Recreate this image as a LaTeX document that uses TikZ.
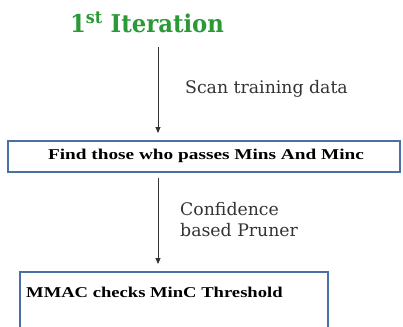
\documentclass[tikz,border=0pt]{standalone}
\usepackage{fontspec}
\setmainfont{Liberation Serif}
\newfontfamily\wideserif{DejaVu Serif}
\usetikzlibrary{arrows.meta}
\definecolor{titlegreen}{HTML}{2A9A36}
\definecolor{boxblue}{HTML}{4A6FA5}
\definecolor{arrowgray}{HTML}{333333}
\begin{document}
\begin{tikzpicture}[x=1pt,y=-1pt,
  stagebox/.style={draw=boxblue,line width=1.8pt,fill=white},
  flow/.style={draw=arrowgray,line width=0.9pt,-{Triangle[length=6pt,width=5pt]}},
  boxtext/.style={inner sep=0pt,font=\bfseries\fontsize{15}{17}\selectfont},
  lbl/.style={anchor=west,inner sep=0pt,text=black!80,font=\wideserif\fontsize{17.3}{20}\selectfont}]
\useasboundingbox (0,0) rectangle (403,326);
\node[inner sep=0pt,text=titlegreen,font=\wideserif\bfseries\fontsize{24.5}{28}\selectfont] (title) at (147,22) {\scalebox{0.93}[1]{1\textsuperscript{st} Iteration}};
\draw[stagebox] (8,141) rectangle (400,172);
\node[boxtext] (find) at (206,156) {\scalebox{1.285}[1]{Find those who passes Mins And Minc}};
\coordinate (box1top) at (158,141);
\coordinate (box1bot) at (158,172);
\draw[stagebox] (20,272) rectangle (328,340);
\node[boxtext,anchor=west] (mmac) at (26,292) {\scalebox{1.24}[1]{MMAC checks MinC Threshold}};
\coordinate (box2top) at (158,272);
\coordinate (a1s) at (158,47);
\coordinate (a2s) at (158,178);
\draw[flow] (a1s) -- ([yshift=8pt]box1top);
\draw[flow] (a2s) -- ([yshift=8pt]box2top);
\node[lbl] (scan) at (185,89) {Scan training data};
\node[lbl,align=left,font=\wideserif\fontsize{17.3}{21}\selectfont] (conf) at (180,220) {Confidence\\based Pruner};
\end{tikzpicture}
\end{document}
